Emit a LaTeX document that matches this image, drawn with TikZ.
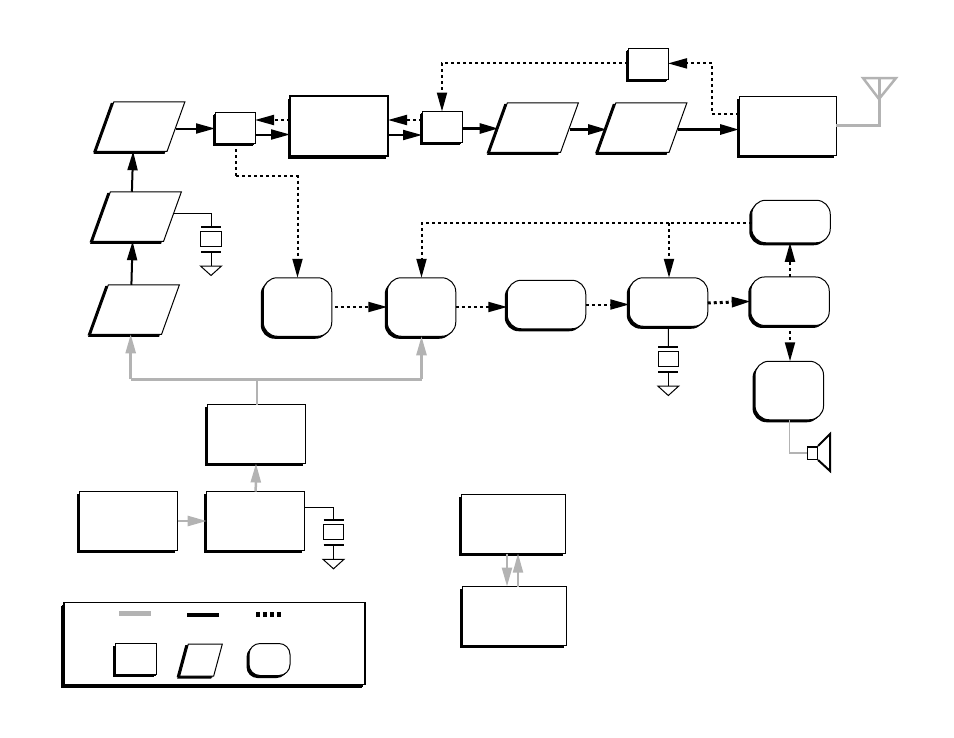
\documentclass[tikz,border=0pt]{standalone}
\usepackage{xcolor}
\usetikzlibrary{arrows.meta,shadows,calc}
\definecolor{rfGray}{HTML}{B3B3B3}
\definecolor{rfInk}{HTML}{000000}
\tikzset{
  % Plain block with offset shadow
  blk/.style={rectangle,draw=rfInk,fill=white,line width=1pt,inner sep=0pt,
    outer sep=0pt,minimum width=98pt,minimum height=59pt,
    drop shadow={shadow xshift=-2.5pt,shadow yshift=-2.5pt,opacity=1,fill=rfInk}},
  % Small switch style block
  sblk/.style={blk,minimum width=40pt,minimum height=31pt,
    drop shadow={shadow xshift=-1pt,shadow yshift=-1.5pt,opacity=1,fill=rfInk}},
  % Slanted block
  para/.style={blk,minimum width=71pt,minimum height=49.5pt,xslant=#1,transform shape,
    drop shadow={shadow xshift=-3pt,shadow yshift=-1pt,opacity=1,fill=rfInk}},
  para/.default=0.36,
  % Rounded block
  rblk/.style={blk,rounded corners=14pt,minimum width=68.5pt,minimum height=58.5pt,
    drop shadow={shadow xshift=-1.5pt,shadow yshift=-1.5pt,opacity=1,fill=rfInk}},
  % Arrows
  tip/.style={-{Triangle[length=19pt,width=10pt]}},
  arr/.style={tip,line width=2pt,color=rfInk},
  arrw/.style={arr,line width=3pt},
  arrd/.style={tip,line width=2pt,dash pattern=on 3pt off 3pt,color=rfInk},
  arrg/.style={tip,line width=2.5pt,color=rfGray},
  dotw/.style={line width=2pt,dash pattern=on 3pt off 3pt,color=rfInk},
  grayw/.style={line width=3pt,color=rfGray},
  wire/.style={line width=1pt,color=rfInk},
  % Crystal with its ground mark
  xtal/.pic={
    \coordinate (-top) at (0,0);
    \draw[line width=2pt] (-10,0) -- (10,0);
    \node[rectangle,draw,fill=white,line width=1pt,minimum width=20.5pt,minimum height=15pt,inner sep=0pt] (-box) at (0,12) {};
    \draw[line width=2pt] (-10,25) -- (10,25);
    \draw[wire] (0,25) -- (0,39);
    \draw[wire,fill=white] (-10.5,39) -- (10.5,39) -- (0,48.5) -- cycle;
  },
}
\begin{document}
\begin{tikzpicture}[x=1pt,y=-1pt]
  \useasboundingbox (0,0) rectangle (954,737);

  % Left hand chain
  \node[shift={(140.5,126.5)},para] (p1) {};
  \node[shift={(137,216.5)},para] (p2) {};
  \node[shift={(135,309.5)},para] (p3) {};
  \node[sblk] (sw1) at (235,127.5) {};
  \node[blk,minimum height=60pt,line width=1.5pt,
    drop shadow={shadow xshift=-1.5pt,shadow yshift=-1pt,opacity=1,fill=rfInk}] (b1) at (339,126) {};

  % Top row
  \node[sblk] (sw2) at (442,127) {};
  \node[sblk] (fb) at (648,64) {};
  \node[shift={(534,127.5)},para] (p4) {};
  \node[shift={(642.5,127.5)},para] (p5) {};
  \node[blk,minimum width=97pt] (b2) at (787.5,125.5) {};

  % Receive chain
  \node[rblk] (r1) at (297.5,307) {};
  \node[rblk] (r2) at (421.5,307) {};
  \node[rblk,minimum width=78.5pt,minimum height=48.5pt] (r3) at (546.5,304.5) {};
  \node[rblk,minimum width=78.5pt,minimum height=48.5pt] (r4) at (668.5,302) {};
  \node[rblk,minimum width=78.5pt,minimum height=42.5pt] (r5) at (791,221.5) {};
  \node[rblk,minimum width=78.5pt,minimum height=48.5pt] (r6) at (790,301.2) {};
  \node[rblk] (r7) at (789.3,390.5) {};

  % Lower blocks
  \node[blk] (b3) at (256,434) {};
  \node[blk] (b4) at (255.7,521) {};
  \node[blk] (b5) at (128.7,521) {};
  \node[blk,minimum width=104pt,
    drop shadow={shadow xshift=-3pt,shadow yshift=-2pt,opacity=1,fill=rfInk}] (b6) at (513.5,524) {};
  \node[blk,minimum width=104pt,
    drop shadow={shadow xshift=-3pt,shadow yshift=-2pt,opacity=1,fill=rfInk}] (b7) at (514.5,616) {};

  % Key
  \node[blk,line width=1.5pt,minimum width=301pt,minimum height=82pt,
    drop shadow={shadow xshift=-3pt,shadow yshift=-3pt,opacity=1,fill=rfInk}] (key) at (214.5,643.7) {};
  \node[sblk,minimum width=41pt] (ksq) at (136,659) {};
  \node[shift={(201,660)},para=0.27,minimum width=34pt,minimum height=32pt,
    drop shadow={shadow xshift=-1.5pt,shadow yshift=-1.5pt,opacity=1,fill=rfInk}] (kpa) {};
  \node[rblk,rounded corners=11pt,minimum width=41pt,minimum height=32pt] (krd) at (269.5,659.5) {};
  \coordinate (kga) at (119,613.3);
  \coordinate (kgb) at (151,613.3);
  \coordinate (kba) at (187,614.7);
  \coordinate (kbb) at (219,614.7);
  \coordinate (kda) at (256,614.3);
  \coordinate (kdb) at (282,614.3);
  \draw[color=rfGray,line width=4.5pt] (kga) -- (kgb);
  \draw[color=rfInk,line width=4pt] (kba) -- (kbb);
  \draw[color=rfInk,line width=4.5pt,dash pattern=on 4.3pt off 2.6pt] (kda) -- (kdb);

  % Crystals
  \pic (xa) at (211,227) {xtal};
  \pic (xb) at (668.3,347) {xtal};
  \pic (xc) at (333.5,520.3) {xtal};
  \draw[wire] ([yshift=3.5pt]p2.east) -| (xa-top);
  \draw[wire] (r4.south) -- (xb-top);
  \draw[wire] ([yshift=13.7pt]b4.east) -| (xc-top);

  % Antenna
  \coordinate (anttop) at (879,78);
  \coordinate (antl) at (863,78);
  \coordinate (antr) at (896,78);
  \coordinate (antb) at (879,99);
  \draw[grayw,line width=2.5pt] (antl) -- (antr) -- (antb) -- cycle;
  \draw[grayw] (b2.east) -| (anttop);

  % Speaker
  \node[rectangle,draw,fill=white,line width=1.5pt,minimum width=10pt,minimum height=12.5pt,inner sep=0pt] (spk) at (812.3,453) {};
  \draw[line width=2pt] (spk.north east) -- ++(12,-12) -- ++(0,37) -- (spk.south east);
  \draw[line width=1.5pt,color=rfGray] (r7.south) |- (spk.west);

  % Solid paths
  \draw[arr] ([xshift=-12.5pt]p3.north) -- ([xshift=4.5pt]p2.south);
  \draw[arr] ([xshift=-14pt]p2.north) -- ([xshift=1.5pt]p1.south);
  \draw[arr] ([yshift=-2pt]p1.east) -- ([yshift=-1pt]sw1.west);
  \draw[arr] ([yshift=-7pt]sw1.east) -- ([yshift=-8.5pt]b1.west);
  \draw[arr] ([yshift=-9pt]b1.east) -- ([yshift=-8pt]sw2.west);
  \draw[arrw] ([yshift=-1.5pt]sw2.east) -- ([yshift=-1pt]p4.west);
  \draw[arrw] ([yshift=-2pt]p4.east) -- ([yshift=-2pt]p5.west);
  \draw[arrw] ([yshift=-2pt]p5.east) -- ([yshift=-4pt]b2.west);

  % Dashed control paths
  \draw[arrd] ([yshift=6pt]b1.west) -- ([yshift=7.5pt]sw1.east);
  \draw[arrd] ([yshift=7pt]sw2.west) -- ([yshift=6pt]b1.east);
  \coordinate (sw1low) at (236.3,175.7);
  \draw[dotw] ([xshift=1.3pt]sw1.south) -- (sw1low);
  \draw[arrd] (sw1low) -| (r1.north);
  \coordinate (fbr) at (711.8,63.4);
  \draw[dotw] ([yshift=11.7pt]b2.west) -| (fbr);
  \draw[arrd] (fbr) -- ([yshift=.6pt]fb.east);
  \draw[arrd] ([yshift=.6pt]fb.west) -| (sw2.north);
  \draw[arrd] ([xshift=3pt]r1.east) -- (r2.west);
  \draw[arrd] (r2.east) -- ([yshift=-2.5pt]r3.west);
  \draw[arrd] (r3.east) -- ([yshift=-2.5pt]r4.west);
  \draw[arrd,line width=3pt] ([yshift=-1pt]r4.east) -- ([yshift=-.2pt]r6.west);
  \draw[arrd] (r6.north) -- (r6.north |- r5.south);
  \draw[arrd] (r6.south) -- (r6.south |- r7.north);
  \coordinate (rbus) at (669,223.3);
  \draw[dotw] (r5.west |- rbus) -- (rbus);
  \draw[arrd] (rbus) -- (rbus |- r4.north);
  \draw[arrd] (rbus) -| (r2.north);

  % Gray supply paths
  \coordinate (busl) at (130.7,379.3);
  \coordinate (busr) at (421.5,379.3);
  \draw[grayw,line width=2pt] ([xshift=1pt]b3.north) -- ([xshift=1pt]b3.north |- busl);
  \draw[grayw] (busl) -- (busr);
  \draw[arrg] (busl) -- (busl |- p3.south);
  \draw[arrg] (busr) -- (r2.south);
  \draw[arrg] (b5.east) -- (b4.west);
  \draw[arrg] (b4.north) -- (b3.south);
  \draw[arrg] ([xshift=-6.5pt]b6.south) -- ([xshift=-7.5pt]b7.north);
  \draw[arrg,line width=2pt] ([xshift=3.5pt]b7.north) -- ([xshift=4.5pt]b6.south);
\end{tikzpicture}
\end{document}
